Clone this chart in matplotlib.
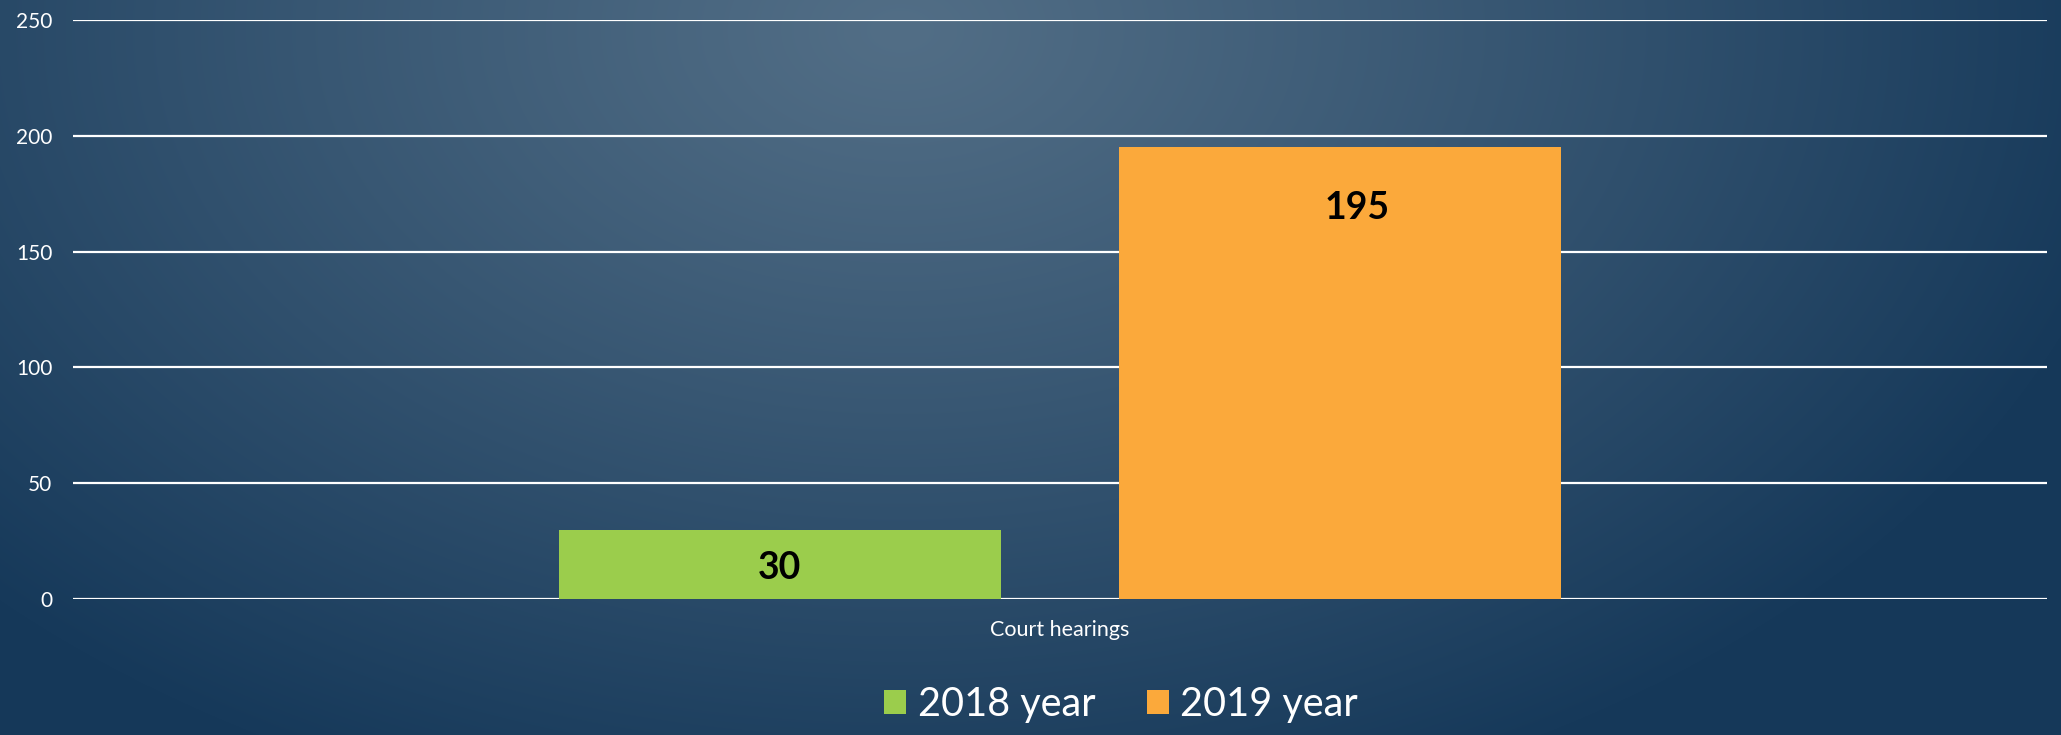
import numpy as np
import matplotlib
matplotlib.use("Agg")
import matplotlib.pyplot as plt
from matplotlib.patches import Patch

# data
categories = ["Court hearings"]
series_names = ["2018 year", "2019 year"]
series_values = [[30], [195]]
series_colors = ["#9bcd4c", "#fba93b"]
y_ticks = [0, 50, 100, 150, 200, 250]

# label offset from bar top (points)
label_offsets = [(0, 28), (12, 44)]

plt.rcParams['font.family'] = ['Lato', 'DejaVu Sans']

W, H = 2061, 735
fig = plt.figure(figsize=(W / 100, H / 100), dpi=100)

# radial background gradient
bg = fig.add_axes([0, 0, 1, 1])
yy, xx = np.mgrid[0:H, 0:W]
r = np.sqrt(((xx - 900) / 1250.0) ** 2 + ((yy - 30) / 820.0) ** 2)
t = np.clip(r, 0, 1) ** 1.1
light = np.array([82, 110, 134]) / 255.0
dark = np.array([22, 57, 90]) / 255.0
img = light[None, None, :] * (1 - t[..., None]) + dark[None, None, :] * t[..., None]
bg.imshow(img, aspect='auto', extent=[0, 1, 0, 1])
bg.axis('off')

ax = fig.add_axes([73 / W, 136 / H, 1974 / W, 579 / H])
ax.patch.set_alpha(0)

x = np.arange(len(categories))
width = 0.224
shift = 0.142
for i, (name, vals, col) in enumerate(zip(series_names, series_values, series_colors)):
    pos = x + (i - 0.5) * 2 * shift
    bars = ax.bar(pos, vals, width=width, color=col, label=name, zorder=3)
    dx, dy = label_offsets[i]
    for b, v in zip(bars, vals):
        ax.annotate(str(v), (b.get_x() + b.get_width() / 2, v),
                    xytext=(dx, -dy), textcoords='offset points',
                    ha='center', va='center', fontsize=27, fontweight='bold',
                    color='black', zorder=4)

ax.set_xlim(-0.5, 0.5)
ax.set_ylim(0, 250)
ax.set_yticks(y_ticks)
ax.set_xticks(x)
ax.set_xticklabels(categories)
ax.yaxis.grid(True, color='white', linewidth=1.6, zorder=0)
for s in ax.spines.values():
    s.set_visible(False)
ax.tick_params(axis='y', length=0, pad=15, labelsize=15, labelcolor='white')
ax.tick_params(axis='x', length=0, pad=15, labelsize=15.5, labelcolor='white')

handles = [Patch(facecolor=c, edgecolor='none') for c in series_colors]
fig.legend(handles, series_names, loc='center', bbox_to_anchor=(0.544, 0.041),
           ncol=2, frameon=False, fontsize=28.5, labelcolor='white',
           handlelength=0.55, handleheight=0.55, handletextpad=0.3,
           columnspacing=1.3)

fig.savefig("out.png", dpi=100)
